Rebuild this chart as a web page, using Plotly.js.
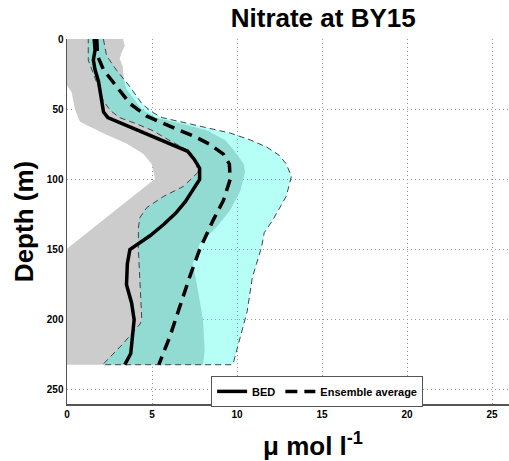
<!DOCTYPE html>
<html>
<head>
<meta charset="utf-8">
<script src="https://cdn.plot.ly/plotly-3.0.1.min.js"></script>
<style>html,body{margin:0;padding:0;background:#fff;overflow:hidden}</style>
</head>
<body>
<div id="chart" style="width:509px;height:461px"></div>
<script>
// BED profile (solid line)
const bedDepth   = [0,8,15,22,30,38,46,52,56,60,65,70,75,80,86,92,100,108,116,124,132,140,146,150,160,175,188,200,212,224,232];
const bedNitrate = [1.6,1.65,1.55,1.65,1.85,1.95,2.05,2.15,2.4,3.2,4.2,5.2,6.1,7.1,7.5,7.8,7.8,7.4,6.95,6.4,5.7,4.9,4.2,3.7,3.55,3.5,3.8,3.95,3.85,3.75,3.4];

// Ensemble average (dashed line)
const ensDepth   = [0,12,22,34,46,55,60,65,70,75,82,89,100,115,129,150,170,191,212,232];
const ensNitrate = [1.75,1.8,2.15,2.9,3.7,4.7,5.6,6.6,7.6,8.4,9.2,9.55,9.6,9.2,8.6,7.8,7.2,6.65,6.05,5.4];

// Ensemble spread (cyan band): upper and lower bounds
const ensHighDepth = [0,12,22,34,46,52,56,60,63,67,72,77,83,89,98,112,129,138,148,170,194,210,230,232];
const ensHigh      = [2.14,2.33,2.9,3.7,4.4,5.0,5.6,7.0,8.2,9.6,10.8,11.75,12.5,12.9,13.2,12.9,12.1,11.6,11.45,10.9,10.6,10.25,9.8,9.7];
const ensLowDepth  = [0,15,22,34,44,51,56,60,65,72,80,88,95,105,112,120,127,134,150,175,200,203,217,232];
const ensLow       = [1.25,1.25,1.45,1.84,2.14,2.55,3.1,4.0,5.0,6.0,7.2,7.6,7.7,6.85,5.7,4.7,4.3,4.2,4.2,4.3,4.4,4.3,3.3,2.1];

// BED spread (grey band): upper and lower bounds
const bedHighDepth = [0,5,10,14,19,29,36,42,50,56,61,65,72,79,89,95,108,122,134,146,160,172,200,222,232];
const bedHigh      = [3.3,3.4,3.2,3.1,3.27,3.35,3.5,3.9,4.4,5.2,7.0,8.2,9.3,9.8,10.4,10.47,10.2,9.6,8.8,7.8,7.4,7.6,8.0,8.1,8.0];
const bedLowDepth  = [0,33,38,50,59,67,74.5,82,89,99.5,149.5,232];
const bedLow       = [0,0,0.27,0.47,0.76,2.1,3.5,4.5,4.98,5.18,0,0];

const xTicks = [0,5,10,15,20,25];
const yTicks = [0,50,100,150,200,250];

function band(hiX, hiY, loX, loY) {
  return {
    x: hiX.concat(loX.slice().reverse()),
    y: hiY.concat(loY.slice().reverse())
  };
}
const grey = band(bedHigh, bedHighDepth, bedLow, bedLowDepth);
const cyan = band(ensHigh, ensHighDepth, ensLow, ensLowDepth);

const FONT = '"Liberation Sans", Arial, Helvetica, sans-serif';

const traces = [
  {x: grey.x, y: grey.y, type: 'scatter', mode: 'lines', fill: 'toself',
   fillcolor: 'rgb(204,204,204)', line: {width: 0, color: 'rgba(0,0,0,0)'},
   showlegend: false, hoverinfo: 'skip'},
  {x: cyan.x, y: cyan.y, type: 'scatter', mode: 'lines', fill: 'toself',
   fillcolor: 'rgba(0,255,228,0.29)', line: {width: 1, color: '#444', dash: '6px,4px'},
   showlegend: false, hoverinfo: 'skip'},
  {x: bedNitrate, y: bedDepth, type: 'scatter', mode: 'lines', name: 'BED',
   line: {color: '#000', width: 3.5}},
  {x: ensNitrate, y: ensDepth, type: 'scatter', mode: 'lines', name: 'Ensemble average',
   line: {color: '#000', width: 3.5, dash: '12px,7px'}}
];

const axisCommon = {
  showgrid: true, gridcolor: '#999', griddash: '1px,3px', gridwidth: 1,
  showline: true, linecolor: '#555', linewidth: 1.5,
  zeroline: false, ticks: '',
  tickfont: {family: FONT, size: 10, color: '#000', weight: 'bold'}
};

const layout = {
  width: 509, height: 461,
  margin: {l: 67, r: 0, t: 39, b: 57},
  paper_bgcolor: '#fff', plot_bgcolor: '#fff',
  showlegend: true,
  title: {text: 'Nitrate at BY15', x: 0.635, xanchor: 'center', y: 0.962, yanchor: 'middle',
          font: {family: FONT, size: 26, color: '#000', weight: 'bold'}},
  xaxis: Object.assign({}, axisCommon, {
    range: [0, 26], tickvals: xTicks, ticktext: xTicks.map(String)
  }),
  yaxis: Object.assign({}, axisCommon, {
    range: [260, 0], tickvals: yTicks, ticktext: yTicks.map(String),
    title: {text: 'Depth (m)', standoff: 5, font: {family: FONT, size: 26, color: '#000', weight: 'bold'}}
  }),
  annotations: [{
    text: 'μ mol l<sup>-1</sup>', xref: 'paper', yref: 'paper', x: 0.557, y: -0.112,
    xanchor: 'center', yanchor: 'middle', showarrow: false,
    font: {family: FONT, size: 26, color: '#000', weight: 'bold'}
  }],
  legend: {orientation: 'h', x: 0.326, y: 0.077, xanchor: 'left', yanchor: 'top',
           bgcolor: '#fff', bordercolor: '#555', borderwidth: 1,
           font: {family: FONT, size: 11, color: '#000', weight: 'bold'},
           itemwidth: 30, tracegroupgap: 0}
};

Plotly.newPlot('chart', traces, layout, {displayModeBar: false, staticPlot: true});
</script>
</body>
</html>
